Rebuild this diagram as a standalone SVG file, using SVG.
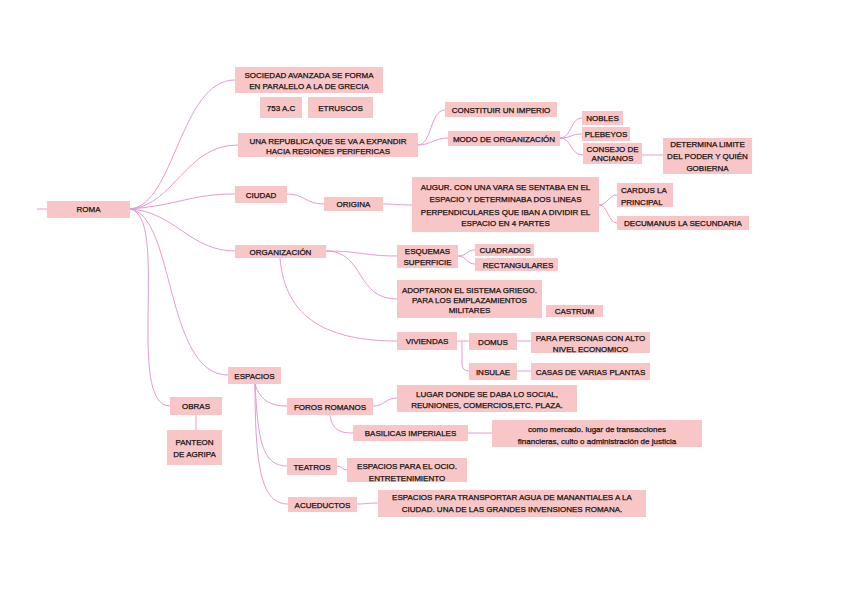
<svg xmlns="http://www.w3.org/2000/svg" width="848" height="599" viewBox="0 0 848 599">
<style>
.b{fill:#f8c6c6}
.t{font-family:"Liberation Sans",Arial,sans-serif;font-size:8px;fill:#111;stroke:#111;stroke-width:0.25;text-anchor:middle}
.l{text-anchor:start}
.c{fill:none;stroke:#e49cce;stroke-width:1}
</style>
<defs><clipPath id="ocio"><rect x="347" y="458" width="120" height="24"/></clipPath></defs>
<rect width="848" height="599" fill="#fff"/>
<g id="connectors">
<path class="c" d="M37,209 L47,209"/>
<path class="c" d="M130,209 C175,205 180,80 235,80"/>
<path class="c" d="M130,209 C175,205 185,145 238,145"/>
<path class="c" d="M130,209 C180,205 190,194 235,194"/>
<path class="c" d="M130,209 C175,212 190,251 235,251"/>
<path class="c" d="M130,209 C175,215 165,375 228,375"/>
<path class="c" d="M130,209 C170,215 125,406 170,406"/>
<path class="c" d="M418,145 C432,145 430,110 445,110"/>
<path class="c" d="M418,145 C430,145 435,138 448,138"/>
<path class="c" d="M560,138 C572,138 570,118 582,118"/>
<path class="c" d="M560,138 C572,138 570,134 582,134"/>
<path class="c" d="M560,138 C572,138 570,155 583,155"/>
<path class="c" d="M642,155 L663,155"/>
<path class="c" d="M287,194 C305,194 305,204 324,204"/>
<path class="c" d="M383,204 C395,204 400,205 412,205"/>
<path class="c" d="M599,205 C608,205 608,195 617,195"/>
<path class="c" d="M599,205 C608,205 608,223 617,223"/>
<path class="c" d="M326,251 C360,251 365,256 397,256"/>
<path class="c" d="M326,251 C365,251 355,299 397,299"/>
<path class="c" d="M280,258 C285,320 330,341 397,341"/>
<path class="c" d="M458,256 C467,256 466,250 475,250"/>
<path class="c" d="M458,256 C467,256 466,264 475,264"/>
<path class="c" d="M457,341 L469,341"/>
<path class="c" d="M462,341 L462,364 Q462,371 469,371"/>
<path class="c" d="M517,341 L531,341"/>
<path class="c" d="M517,371 L531,371"/>
<path class="c" d="M196,415 L196,430"/>
<path class="c" d="M255,384 C260,400 270,406 287,406"/>
<path class="c" d="M255,384 C258,440 262,466 287,466"/>
<path class="c" d="M255,384 C255,470 262,504 288,504"/>
<path class="c" d="M373,406 C385,406 385,398 397,398"/>
<path class="c" d="M330,415 C332,430 340,433 353,433"/>
<path class="c" d="M468,433 L492,433"/>
<path class="c" d="M337,466 C342,466 342,470 347,470"/>
<path class="c" d="M357,504 C367,504 367,503 378,503"/>
</g>
<g id="roma"><rect class="b" x="47" y="201" width="83" height="17"/><text class="t" x="88.5" y="212">ROMA</text></g>
<g id="sociedad"><rect class="b" x="235" y="67" width="148" height="26"/><text class="t" x="309" y="78">SOCIEDAD AVANZADA SE FORMA</text><text class="t" x="309" y="89">EN PARALELO A LA DE GRECIA</text></g>
<g id="ac753"><rect class="b" x="260" y="97" width="42" height="21"/><text class="t" x="281" y="110.5">753 A.C</text></g>
<g id="etruscos"><rect class="b" x="308" y="97" width="65" height="21"/><text class="t" x="340.5" y="110.5">ETRUSCOS</text></g>
<g id="republica"><rect class="b" x="238" y="133" width="180" height="24"/><text class="t" x="328" y="144">UNA REPUBLICA QUE SE VA A EXPANDIR</text><text class="t" x="328" y="154">HACIA REGIONES PERIFERICAS</text></g>
<g id="constituir"><rect class="b" x="445" y="102" width="112" height="15"/><text class="t" x="501" y="112.5">CONSTITUIR UN IMPERIO</text></g>
<g id="modo"><rect class="b" x="448" y="131" width="112" height="15"/><text class="t" x="504" y="141.5">MODO DE ORGANIZACIÓN</text></g>
<g id="nobles"><rect class="b" x="582" y="111" width="41" height="14"/><text class="t" x="602.5" y="121">NOBLES</text></g>
<g id="plebeyos"><rect class="b" x="582" y="127" width="48" height="14"/><text class="t" x="606" y="137">PLEBEYOS</text></g>
<g id="consejo"><rect class="b" x="583" y="143" width="59" height="21"/><text class="t" x="612.5" y="152">CONSEJO DE</text><text class="t" x="612.5" y="161">ANCIANOS</text></g>
<g id="determina"><rect class="b" x="663" y="138" width="89" height="36"/><text class="t" x="707.5" y="147">DETERMINA LIMITE</text><text class="t" x="707.5" y="159">DEL PODER Y QUIÉN</text><text class="t" x="707.5" y="170.5">GOBIERNA</text></g>
<g id="ciudad"><rect class="b" x="235" y="186" width="52" height="17"/><text class="t" x="261" y="197.5">CIUDAD</text></g>
<g id="origina"><rect class="b" x="324" y="197" width="59" height="14"/><text class="t" x="353.5" y="207">ORIGINA</text></g>
<g id="augur"><rect class="b" x="412" y="177" width="187" height="55"/><text class="t" x="505.5" y="190">AUGUR. CON UNA VARA SE SENTABA EN EL</text><text class="t" x="505.5" y="202">ESPACIO Y DETERMINABA DOS LINEAS</text><text class="t" x="505.5" y="215">PERPENDICULARES QUE IBAN A DIVIDIR EL</text><text class="t" x="505.5" y="226">ESPACIO EN 4 PARTES</text></g>
<g id="cardus"><rect class="b" x="617" y="183" width="56" height="24"/><text class="t l" x="621" y="193">CARDUS LA</text><text class="t l" x="621" y="205">PRINCIPAL</text></g>
<g id="decumanus"><rect class="b" x="617" y="216" width="132" height="14"/><text class="t" x="683" y="226">DECUMANUS LA SECUNDARIA</text></g>
<g id="organizacion"><rect class="b" x="235" y="245" width="91" height="13"/><text class="t" x="280.5" y="254.5">ORGANIZACIÓN</text></g>
<g id="esquemas"><rect class="b" x="397" y="245" width="61" height="23"/><text class="t" x="427.5" y="254">ESQUEMAS</text><text class="t" x="427.5" y="265">SUPERFICIE</text></g>
<g id="cuadrados"><rect class="b" x="475" y="244" width="59" height="12"/><text class="t" x="505" y="253">CUADRADOS</text></g>
<g id="rectangulares"><rect class="b" x="475" y="258" width="83" height="13"/><text class="t" x="518" y="268">RECTANGULARES</text></g>
<g id="adoptaron"><rect class="b" x="397" y="280" width="145" height="38"/><text class="t" x="469.5" y="293">ADOPTARON EL SISTEMA GRIEGO.</text><text class="t" x="469.5" y="302.5">PARA LOS EMPLAZAMIENTOS</text><text class="t" x="469.5" y="312.5">MILITARES</text></g>
<g id="castrum"><rect class="b" x="546" y="305" width="57" height="12"/><text class="t" x="574.5" y="314">CASTRUM</text></g>
<g id="viviendas"><rect class="b" x="397" y="332" width="60" height="18"/><text class="t" x="427" y="344">VIVIENDAS</text></g>
<g id="domus"><rect class="b" x="469" y="333" width="48" height="17"/><text class="t" x="493" y="344.5">DOMUS</text></g>
<g id="personas"><rect class="b" x="531" y="332" width="119" height="21"/><text class="t" x="590.5" y="341">PARA PERSONAS CON ALTO</text><text class="t" x="590.5" y="352">NIVEL ECONOMICO</text></g>
<g id="insulae"><rect class="b" x="469" y="363" width="48" height="17"/><text class="t" x="493" y="374.5">INSULAE</text></g>
<g id="casas"><rect class="b" x="531" y="363" width="119" height="17"/><text class="t" x="590.5" y="374.5">CASAS DE VARIAS PLANTAS</text></g>
<g id="espacios"><rect class="b" x="228" y="367" width="53" height="17"/><text class="t" x="254.5" y="378.5">ESPACIOS</text></g>
<g id="obras"><rect class="b" x="170" y="397" width="52" height="18"/><text class="t" x="196" y="409">OBRAS</text></g>
<g id="panteon"><rect class="b" x="167" y="430" width="55" height="35"/><text class="t" x="194.5" y="445">PANTEON</text><text class="t" x="194.5" y="457">DE AGRIPA</text></g>
<g id="foros"><rect class="b" x="287" y="398" width="86" height="17"/><text class="t" x="330" y="409.5">FOROS ROMANOS</text></g>
<g id="lugar"><rect class="b" x="397" y="385" width="180" height="27"/><text class="t" x="487" y="397">LUGAR DONDE SE DABA LO SOCIAL,</text><text class="t" x="487" y="407.5">REUNIONES, COMERCIOS,ETC. PLAZA.</text></g>
<g id="basilicas"><rect class="b" x="353" y="425" width="115" height="16"/><text class="t" x="410.5" y="436">BASILICAS IMPERIALES</text></g>
<g id="mercado"><rect class="b" x="492" y="420" width="210" height="27"/><text class="t" x="597" y="432">como mercado. lugar de transacciones</text><text class="t" x="597" y="443.5">financieras, culto o administración de justicia</text></g>
<g id="teatros"><rect class="b" x="287" y="458" width="50" height="17"/><text class="t" x="312" y="469.5">TEATROS</text></g>
<g id="ocio"><rect class="b" x="347" y="458" width="120" height="24"/><g clip-path="url(#ocio)"><text class="t" x="407" y="468.5">ESPACIOS PARA EL OCIO.</text><text class="t" x="407" y="481">ENTRETENIMIENTO</text></g></g>
<g id="acueductos"><rect class="b" x="288" y="497" width="69" height="15"/><text class="t" x="322.5" y="507.5">ACUEDUCTOS</text></g>
<g id="transportar"><rect class="b" x="378" y="490" width="268" height="27"/><text class="t" x="512" y="500">ESPACIOS PARA TRANSPORTAR AGUA DE MANANTIALES A LA</text><text class="t" x="512" y="511.5">CIUDAD. UNA DE LAS GRANDES INVENSIONES ROMANA.</text></g>
</svg>
